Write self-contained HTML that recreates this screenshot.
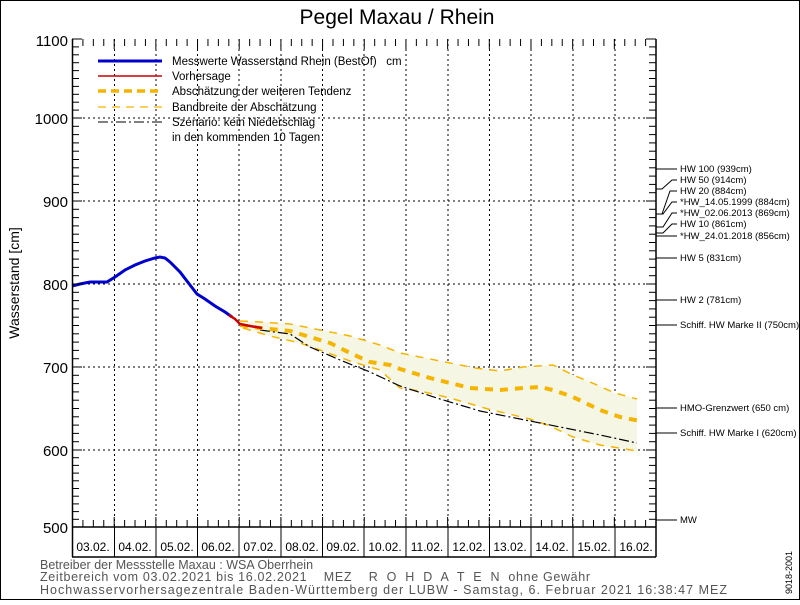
<!DOCTYPE html>
<html><head><meta charset="utf-8"><style>
html,body{margin:0;padding:0;background:#fff}
svg text{font-family:"Liberation Sans",sans-serif;white-space:pre}
</style></head><body>
<svg width="800" height="600" xmlns="http://www.w3.org/2000/svg">
<rect x="0.5" y="0.5" width="799" height="599" fill="#fff" stroke="#000"/>
<text x="397" y="24" font-size="21" text-anchor="middle">Pegel Maxau / Rhein</text>
<g stroke="#000" stroke-dasharray="2,3" stroke-width="1">
<line x1="73" y1="118" x2="656" y2="118"/><line x1="73" y1="201" x2="656" y2="201"/>
<line x1="73" y1="284" x2="656" y2="284"/><line x1="73" y1="367" x2="656" y2="367"/>
<line x1="73" y1="450" x2="656" y2="450"/>
<line x1="114.5" y1="39" x2="114.5" y2="527"/><line x1="156" y1="39" x2="156" y2="527"/>
<line x1="197.5" y1="39" x2="197.5" y2="527"/><line x1="239" y1="39" x2="239" y2="527"/>
<line x1="281" y1="39" x2="281" y2="527"/><line x1="322.5" y1="39" x2="322.5" y2="527"/>
<line x1="364" y1="39" x2="364" y2="527"/><line x1="406" y1="39" x2="406" y2="527"/>
<line x1="448" y1="39" x2="448" y2="527"/><line x1="489.5" y1="39" x2="489.5" y2="527"/>
<line x1="531" y1="39" x2="531" y2="527"/><line x1="573" y1="39" x2="573" y2="527"/>
<line x1="615" y1="39" x2="615" y2="527"/>
</g>
<polygon fill="#f6f6e4" points="240,321 260,322 290,324 320,330 350,336 380,345 400,353 445,362 475,368 500,371 523,367 553,365 573,375 590,382 615,393 637,399 637,451 600,445 573,437 550,426 530,419 488,409 450,398 420,391 400,388 380,370 350,361 320,350 300,343 270,336 243,328"/>
<g fill="none" stroke="#f5b400" stroke-width="1.5" stroke-dasharray="8,7">
<polyline points="240,321 260,322 290,324 320,330 350,336 380,345 400,353 445,362 475,368 500,371 523,367 553,365 573,375 590,382 615,393 637,399"/>
<polyline points="243,328 270,336 300,343 320,350 350,361 380,370 400,388 420,391 450,398 488,409 530,419 550,426 573,437 600,445 637,451"/>
</g>
<polyline fill="none" stroke="#000" stroke-width="1.2" stroke-dasharray="10,3,2,3" points="260,330 290,334 310,347 340,360 370,372 400,386 440,399 480,411 520,419 560,427 600,435 637,443"/>
<polyline fill="none" stroke="#f5b400" stroke-width="4" stroke-dasharray="8,7" points="240,325 260,328 290,331 310,337 330,343 350,353 370,362 390,365 400,369 430,378 470,388 500,390 523,388 540,387 553,390 573,397 600,410 620,417 640,421"/>
<polyline fill="none" stroke="#0000cc" stroke-width="3" points="72,286 80,284 90,282 107,282 115,277 125,270 135,265 145,261 155,258 160,257 165,258 170,262 180,272 190,285 197,294 205,299 215,306 225,312 232,317"/>
<polyline fill="none" stroke="#cc0000" stroke-width="2.5" points="229,315 235,319 240,324 250,326 262,328"/>
<g stroke="#000" stroke-width="1.5" fill="none">
<line x1="72.5" y1="39" x2="72.5" y2="557"/>
<line x1="656" y1="39" x2="656" y2="557"/>
<line x1="72" y1="527" x2="656" y2="527"/>
<line x1="72" y1="557" x2="656" y2="557"/>
</g>
<g stroke="#000" stroke-width="1">
<line x1="114.5" y1="527" x2="114.5" y2="557"/><line x1="156" y1="527" x2="156" y2="557"/>
<line x1="197.5" y1="527" x2="197.5" y2="557"/><line x1="239" y1="527" x2="239" y2="557"/>
<line x1="281" y1="527" x2="281" y2="557"/><line x1="322.5" y1="527" x2="322.5" y2="557"/>
<line x1="364" y1="527" x2="364" y2="557"/><line x1="406" y1="527" x2="406" y2="557"/>
<line x1="448" y1="527" x2="448" y2="557"/><line x1="489.5" y1="527" x2="489.5" y2="557"/>
<line x1="531" y1="527" x2="531" y2="557"/><line x1="573" y1="527" x2="573" y2="557"/>
<line x1="615" y1="527" x2="615" y2="557"/>
</g>
<g id="yt" stroke="#000" stroke-width="1"></g>
<g id="xt" stroke="#000" stroke-width="1"></g>
<g font-size="15" text-anchor="end">
<text x="68" y="46">1100</text><text x="68" y="124">1000</text><text x="68" y="207">900</text>
<text x="68" y="290">800</text><text x="68" y="373">700</text><text x="68" y="456">600</text>
<text x="68" y="533">500</text>
</g>
<text transform="translate(19,283) rotate(-90)" font-size="14" text-anchor="middle">Wasserstand [cm]</text>
<g font-size="12" text-anchor="middle">
<text x="93" y="551">03.02.</text><text x="135" y="551">04.02.</text><text x="177" y="551">05.02.</text>
<text x="218" y="551">06.02.</text><text x="260" y="551">07.02.</text><text x="302" y="551">08.02.</text>
<text x="343" y="551">09.02.</text><text x="385" y="551">10.02.</text><text x="427" y="551">11.02.</text>
<text x="469" y="551">12.02.</text><text x="510" y="551">13.02.</text><text x="552" y="551">14.02.</text>
<text x="594" y="551">15.02.</text><text x="636" y="551">16.02.</text>
</g>
<line x1="98" y1="61" x2="162" y2="61" stroke="#0000cc" stroke-width="3"/>
<line x1="98" y1="76" x2="162" y2="76" stroke="#cc0000" stroke-width="1.5"/>
<line x1="98" y1="91" x2="162" y2="91" stroke="#f5b400" stroke-width="3.5" stroke-dasharray="8,5"/>
<line x1="98" y1="107" x2="162" y2="107" stroke="#f5b400" stroke-width="1.2" stroke-dasharray="8,6"/>
<line x1="98" y1="122" x2="162" y2="122" stroke="#000" stroke-width="1" stroke-dasharray="10,3,2,3"/>
<g font-size="11.5">
<text x="172" y="65">Messwerte Wasserstand Rhein (BestOf)   cm</text>
<text x="172" y="80">Vorhersage</text>
<text x="172" y="95">Abschätzung der weiteren Tendenz</text>
<text x="172" y="111">Bandbreite der Abschätzung</text>
<text x="172" y="126">Szenario: kein Niederschlag</text>
<text x="172" y="141">in den kommenden 10 Tagen</text>
</g>
<g stroke="#000" stroke-width="1" fill="none">
<line x1="656" y1="169" x2="677" y2="169"/>
<polyline points="656,189 662,189 672,180 677,180"/>
<polyline points="656,214 662,214 670,191 677,191"/>
<polyline points="656,214 663,214 672,202 677,202"/>
<polyline points="656,227 663,227 672,213 677,213"/>
<polyline points="656,233 663,233 672,224 677,224"/>
<line x1="656" y1="236" x2="677" y2="236"/>
<line x1="656" y1="258" x2="677" y2="258"/>
<line x1="656" y1="300" x2="677" y2="300"/>
<line x1="656" y1="325" x2="677" y2="325"/>
<line x1="656" y1="408" x2="677" y2="408"/>
<line x1="656" y1="433" x2="677" y2="433"/>
<line x1="656" y1="520" x2="677" y2="520"/>
</g>
<g font-size="9.5">
<text x="680" y="172">HW 100 (939cm)</text>
<text x="680" y="183">HW 50 (914cm)</text>
<text x="680" y="194">HW 20 (884cm)</text>
<text x="680" y="205">*HW_14.05.1999 (884cm)</text>
<text x="680" y="216">*HW_02.06.2013 (869cm)</text>
<text x="680" y="227">HW 10 (861cm)</text>
<text x="680" y="239">*HW_24.01.2018 (856cm)</text>
<text x="680" y="261">HW 5 (831cm)</text>
<text x="680" y="303">HW 2 (781cm)</text>
<text x="680" y="328">Schiff. HW Marke II (750cm)</text>
<text x="680" y="411">HMO-Grenzwert (650 cm)</text>
<text x="680" y="436">Schiff. HW Marke I (620cm)</text>
<text x="680" y="523">MW</text>
</g>
<g font-size="12.5" fill="#555">
<text x="40" y="569">Betreiber der Messstelle Maxau : WSA Oberrhein</text>
<text x="40" y="581" textLength="550" lengthAdjust="spacing">Zeitbereich vom 03.02.2021 bis 16.02.2021    MEZ    R  O  H  D  A  T  E  N  ohne Gewähr</text>
<text x="40" y="594" textLength="687" lengthAdjust="spacing">Hochwasservorhersagezentrale Baden-Württemberg der LUBW - Samstag, 6. Februar 2021 16:38:47 MEZ</text>
</g>
<text transform="translate(792,594) rotate(-90)" font-size="9">9018-2001</text>
<script>
var ns="http://www.w3.org/2000/svg",yt=document.getElementById("yt"),xt=document.getElementById("xt");
function L(g,a,b,c,d){var l=document.createElementNS(ns,"line");l.setAttribute("x1",a);l.setAttribute("y1",b);l.setAttribute("x2",c);l.setAttribute("y2",d);g.appendChild(l);}
for(var v=500;v<=1100;v+=10){var y=450-(v-600)*0.83;if(v>1000)y=118-(v-1000)*0.79;if(v<600)y=450+(600-v)*0.77;var w=(v%100==0)?10:7;L(yt,72,y,72+w,y);L(yt,656,y,656-w,y);}
for(var i=0;i<=56;i++){var x=72.5+i*41.68/4;var h=(i%4==0)?10:7;L(xt,x,527,x,527-h);L(xt,x,39,x,39+h);}
</script>
</svg>
</body></html>
